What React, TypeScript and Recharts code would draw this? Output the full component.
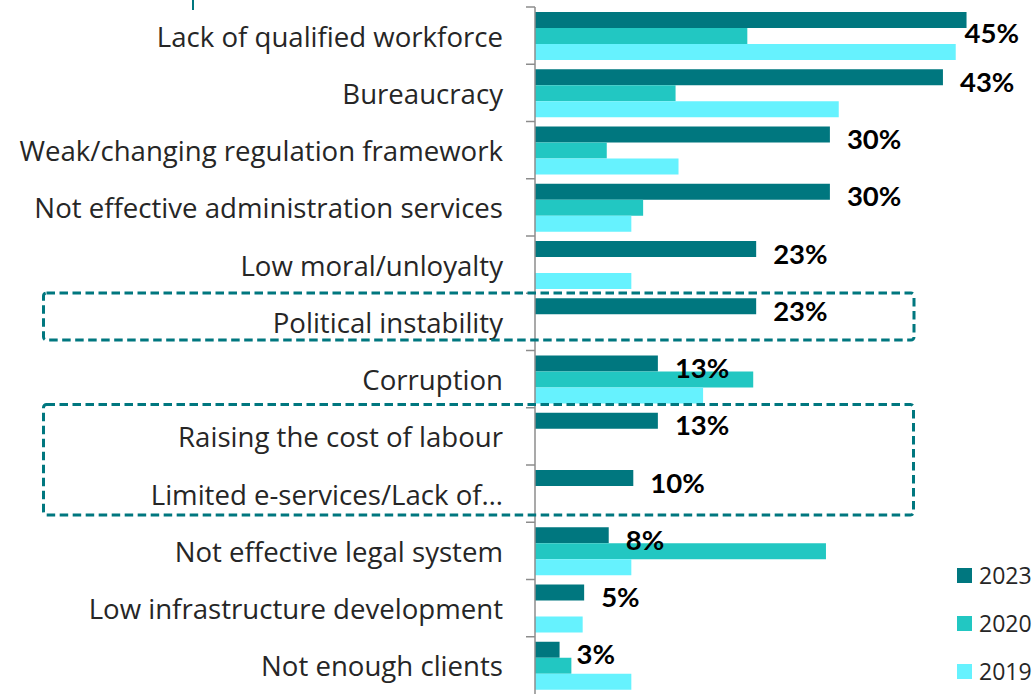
import { Bar, BarChart, LabelList, XAxis, YAxis } from "recharts"

const categories = [
  "Lack of qualified workforce",
  "Bureaucracy",
  "Weak/changing regulation framework",
  "Not effective administration services",
  "Low moral/unloyalty",
  "Political instability",
  "Corruption",
  "Raising the cost of labour",
  "Limited e-services/Lack of…",
  "Not effective legal system",
  "Low infrastructure development",
  "Not enough clients",
]
const values2023 = [43.9, 41.5, 30, 30, 22.5, 22.5, 12.5, 12.5, 10, 7.5, 5, 2.5]
const labels2023 = ["45%", "43%", "30%", "30%", "23%", "23%", "13%", "13%", "10%", "8%", "5%", "3%"]
const values2020 = [21.6, 14.3, 7.3, 11, 0, 0, 22.2, 0, 0, 29.6, 0, 3.7]
const values2019 = [42.8, 30.9, 14.6, 9.8, 9.8, 0, 17.1, 0, 0, 9.8, 4.85, 9.8]

const series = [
  { key: "y2023", name: "2023", color: "#00777f" },
  { key: "y2020", name: "2020", color: "#22c7c2" },
  { key: "y2019", name: "2019", color: "#66f2fe" },
]

const data = categories.map((name, i) => ({
  name,
  y2023: values2023[i],
  y2020: values2020[i],
  y2019: values2019[i],
  label: labels2023[i],
}))

const TEAL = "#00777f"
const FONT = "'Open Sans', sans-serif"
const BAND = 687 / 12

function CategoryTick(props: any) {
  const { x, y, payload } = props
  const axisX = x + 32
  const top = y - BAND / 2
  return (
    <g>
      <line x1={axisX - 9} x2={axisX} y1={top} y2={top} stroke="#8c8c8c" strokeWidth={1.5} />
      <text x={x} y={y} textAnchor="end" dominantBaseline="central" fontSize={27.6} fill="#262626" fontFamily={FONT}>
        {payload.value}
      </text>
    </g>
  )
}

function ValueLabel(props: any) {
  const { x, y, width, height, value } = props
  const end = x + width
  let tx = end + 17
  let ty = y + height / 2 + 4
  if (tx + 55 > 1030) {
    tx = end - 2
    ty = y + height / 2 + 12
  }
  return (
    <text x={tx} y={ty} dominantBaseline="central" fontSize={27.5} fontWeight={700} fill="#000" fontFamily="Lato, sans-serif">
      {value}
    </text>
  )
}

export default function App() {
  return (
    <div style={{ position: "absolute", left: 0, top: 0, width: 1035, height: 694, background: "#fff", overflow: "hidden" }}>
      <BarChart
        width={1035}
        height={694}
        data={data}
        layout="vertical"
        margin={{ top: 7, right: 8.5, bottom: 0, left: 0 }}
        barCategoryGap={5}
        barGap={0}
      >
        <XAxis type="number" domain={[0, 50]} hide />
        <YAxis
          type="category"
          dataKey="name"
          width={535}
          tick={<CategoryTick />}
          tickLine={false}
          tickSize={8}
          tickMargin={24}
          axisLine={{ stroke: "#8c8c8c", strokeWidth: 1.5 }}
          interval={0}
        />
        {series.map((s, i) => (
          <Bar key={s.key} dataKey={s.key} name={s.name} fill={s.color} isAnimationActive={false}>
            {i === 0 && <LabelList dataKey="label" content={<ValueLabel />} />}
          </Bar>
        ))}
      </BarChart>
      <div style={{ position: "absolute", left: 957, top: 551, fontFamily: FONT }}>
        {series.map((s) => (
          <div key={s.key} style={{ display: "flex", alignItems: "center", height: 48 }}>
            <span style={{ width: 15, height: 15, background: s.color, display: "inline-block", marginRight: 7 }} />
            <span style={{ fontSize: 23, color: "#262626" }}>{s.name}</span>
          </div>
        ))}
      </div>
      <svg width={1035} height={694} style={{ position: "absolute", left: 0, top: 0, pointerEvents: "none" }}>
        <line x1={193} x2={193} y1={0} y2={10} stroke={TEAL} strokeWidth={2} />
        <rect x={43.5} y={293} width={870.5} height={47} rx={3} fill="none" stroke={TEAL} strokeWidth={3} strokeDasharray="8.5 4.5" />
        <rect x={43.5} y={404.5} width={870} height={110.5} rx={3} fill="none" stroke={TEAL} strokeWidth={3} strokeDasharray="8.5 4.5" />
      </svg>
    </div>
  )
}
